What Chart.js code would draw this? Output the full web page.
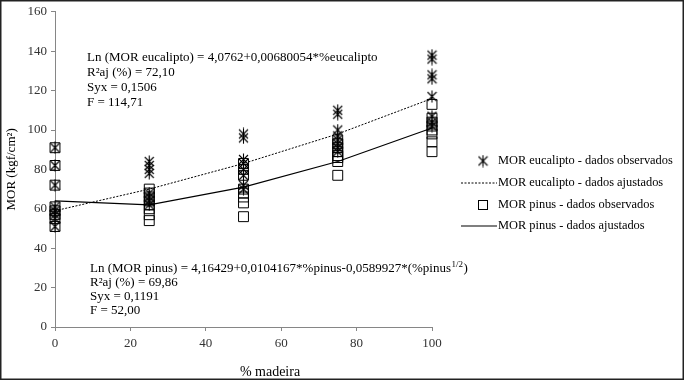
<!DOCTYPE html>
<html>
<head>
<meta charset="utf-8">
<script src="https://cdn.jsdelivr.net/npm/chart.js@4"></script>
<style>
  html, body { margin: 0; padding: 0; background: #fff; }
  #c { display: block; }
</style>
</head>
<body>
<canvas id="c" width="684" height="380"></canvas>
<script>
// ---- Data ----
const madeiraPct = [0, 25, 50, 75, 100];
const yTicks = [0, 20, 40, 60, 80, 100, 120, 140, 160];
const xTicks = [0, 20, 40, 60, 80, 100];

// observed MOR, eucalipto (one list per % madeira)
const eucObs0   = [91, 82, 72, 61, 59, 57, 55, 51];
const eucObs25  = [84, 82, 80, 78, 68, 66, 64, 62];
const eucObs50  = [98, 96, 85, 83, 80, 77, 72, 70];
const eucObs75  = [110, 108, 100, 97, 95, 93, 91, 89];
const eucObs100 = [138, 136, 128, 126, 117, 107, 104, 102];

// observed MOR, pinus
const pinObs0   = [91, 82, 72, 61, 59, 57, 55, 51];
const pinObs25  = [70, 68, 66, 64, 62, 60, 57, 54];
const pinObs50  = [83, 80, 77, 70, 68, 66, 63, 56];
const pinObs75  = [95, 93, 91, 89, 87, 86, 84, 77];
const pinObs100 = [113, 106, 104, 102, 100, 98, 94, 89];

// fitted curves read at each % madeira
const eucFit = [59, 70, 83, 98, 116];
const pinFit = [64, 62, 71, 84, 101];

const seriesLabels = [
  'MOR eucalipto - dados observados',
  'MOR eucalipto - dados ajustados',
  'MOR pinus - dados observados',
  'MOR pinus - dados ajustados'
];

const eucText = [
  'Ln (MOR eucalipto) = 4,0762+0,00680054*%eucalipto',
  'R²aj (%) = 72,10',
  'Syx = 0,1506',
  'F = 114,71'
];
const pinText = [
  'Ln (MOR pinus) = 4,16429+0,0104167*%pinus-0,0589927*(%pinus',
  'R²aj (%) = 69,86',
  'Syx = 0,1191',
  'F = 52,00'
];
const pinSup = '1/2';
const pinTail = ')';
const xTitle = '% madeira';
const yTitle = 'MOR (kgf/cm²)';

// ---- helpers ----
const eucGroups = [eucObs0, eucObs25, eucObs50, eucObs75, eucObs100];
const pinGroups = [pinObs0, pinObs25, pinObs50, pinObs75, pinObs100];
function toPoints(groups) {
  const pts = [];
  groups.forEach((g, i) => g.forEach(v => pts.push({ x: madeiraPct[i], y: v })));
  return pts;
}
function toLine(vals) { return vals.map((v, i) => ({ x: madeiraPct[i], y: v })); }

const FONT = '"Liberation Serif", "Times New Roman", serif';

// asterisk marker (vertical stroke + X)
const star = document.createElement('canvas');
star.width = 11; star.height = 13;
(function () {
  const g = star.getContext('2d');
  g.strokeStyle = '#000'; g.lineWidth = 1.1;
  g.beginPath();
  g.moveTo(5.5, 0.5); g.lineTo(5.5, 12.5);
  g.moveTo(1, 2); g.lineTo(10, 11);
  g.moveTo(10, 2); g.lineTo(1, 11);
  g.stroke();
})();

const framePlugin = {
  id: 'frame',
  beforeDraw(chart) {
    const c = chart.ctx;
    c.save(); c.fillStyle = '#fff'; c.fillRect(0, 0, chart.width, chart.height); c.restore();
  },
  afterDraw(chart) {
    const c = chart.ctx;
    c.save();
    c.fillStyle = '#000';
    c.textBaseline = 'middle';
    // annotations
    c.font = '13px ' + FONT;
    c.textAlign = 'left';
    eucText.forEach((t, i) => c.fillText(t, 87, 58 + i * 15));
    pinText.forEach((t, i) => c.fillText(t, 90, 269 + i * 14));
    const w = c.measureText(pinText[0]).width;
    c.font = '9px ' + FONT;
    c.fillText(pinSup, 90 + w + 0.5, 265);
    const w2 = c.measureText(pinSup).width;
    c.font = '13px ' + FONT;
    c.fillText(pinTail, 90 + w + w2 + 1, 269);
    // x title
    c.textAlign = 'center';
    c.font = '14px ' + FONT;
    c.fillText(xTitle, 270, 372);
    // legend
    c.textAlign = 'left';
    c.font = '12.4px ' + FONT;
    const lx = 498, ly = [161, 183, 205, 226];
    seriesLabels.forEach((t, i) => c.fillText(t, lx, ly[i]));
    c.drawImage(star, 483 - 5.5, ly[0] - 6.5);
    c.strokeStyle = '#000';
    c.lineWidth = 1;
    c.setLineDash([2, 1.5]);
    c.beginPath(); c.moveTo(461, ly[1]); c.lineTo(497, ly[1]); c.stroke();
    c.setLineDash([]);
    c.strokeRect(478.5, ly[2] - 4.5, 9, 9);
    c.lineWidth = 1.2;
    c.beginPath(); c.moveTo(461, ly[3]); c.lineTo(497, ly[3]); c.stroke();
    // outer frame
    c.lineWidth = 1.5;
    c.strokeStyle = '#222';
    c.strokeRect(0.75, 0.75, chart.width - 1.5, chart.height - 1.5);
    c.restore();
  }
};

new Chart(document.getElementById('c'), {
  type: 'scatter',
  data: {
    datasets: [
      {
        label: seriesLabels[0],
        data: toPoints(eucGroups),
        pointStyle: star,
        pointRadius: 6,
        borderColor: '#000',
        backgroundColor: '#000',
        showLine: false,
        clip: false
      },
      {
        label: seriesLabels[1],
        data: toLine(eucFit),
        showLine: true,
        borderColor: '#000',
        borderWidth: 1,
        borderDash: [2, 1.5],
        pointRadius: 0,
        tension: 0,
        fill: false,
        clip: false
      },
      {
        label: seriesLabels[2],
        data: toPoints(pinGroups),
        pointStyle: 'rect',
        pointRadius: 7,
        borderColor: '#000',
        pointBorderWidth: 1,
        backgroundColor: 'rgba(255,255,255,0)',
        showLine: false,
        clip: false
      },
      {
        label: seriesLabels[3],
        data: toLine(pinFit),
        showLine: true,
        borderColor: '#000',
        borderWidth: 1.2,
        pointRadius: 0,
        tension: 0,
        fill: false,
        clip: false
      }
    ]
  },
  options: {
    responsive: false,
    animation: false,
    devicePixelRatio: 1,
    layout: { padding: { top: 8, right: 252, bottom: 0, left: 0 } },
    plugins: { legend: { display: false }, tooltip: { enabled: false } },
    scales: {
      x: {
        type: 'linear',
        min: 0, max: 100,
        afterBuildTicks(scale) { scale.ticks = xTicks.map(v => ({ value: v })); },
        afterFit(scale) { scale.height = 53; },
        border: { color: '#868686', width: 1 },
        grid: { drawOnChartArea: false, drawTicks: true, tickLength: 4, color: '#868686' },
        ticks: { padding: 5, color: '#333', font: { family: FONT, size: 13 } }
      },
      y: {
        type: 'linear',
        min: 0, max: 160,
        afterBuildTicks(scale) { scale.ticks = yTicks.map(v => ({ value: v })); },
        afterFit(scale) { scale.width = 55; },
        border: { color: '#868686', width: 1 },
        grid: { drawOnChartArea: false, drawTicks: true, tickLength: 4, color: '#868686' },
        ticks: { padding: 4, color: '#333', font: { family: FONT, size: 13 } },
        title: {
          display: true, text: yTitle, color: '#000',
          font: { family: FONT, size: 13 }, padding: { top: 4, bottom: 0 }
        }
      }
    }
  },
  plugins: [framePlugin]
});
</script>
</body>
</html>
